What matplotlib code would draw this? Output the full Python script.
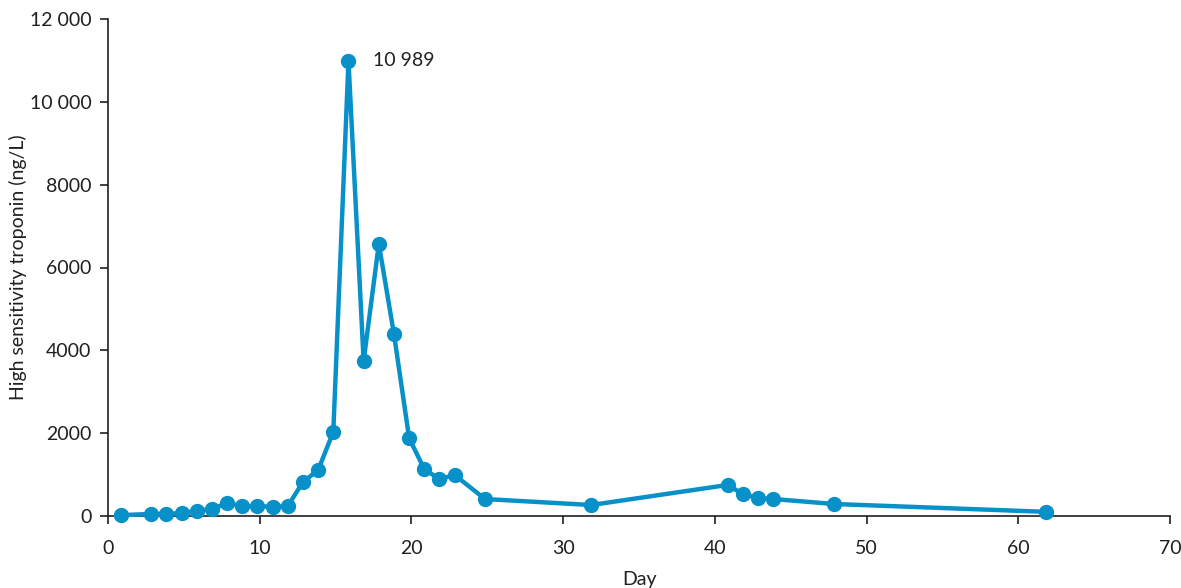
import matplotlib
matplotlib.use("Agg")
import matplotlib.pyplot as plt
from matplotlib.ticker import FuncFormatter

plt.rcParams['font.family'] = ['Lato', 'DejaVu Sans']

days = [0.85, 2.85, 3.85, 4.85, 5.85, 6.85, 7.85, 8.85, 9.85, 10.85, 11.85,
        12.85, 13.85, 14.85, 15.85, 16.85, 17.85, 18.85, 19.85, 20.85, 21.85,
        22.85, 24.85, 31.85, 40.85, 41.85, 42.85, 43.85, 47.85, 61.85]
troponin = [20, 50, 50, 70, 120, 170, 310, 240, 240, 220, 240,
            820, 1110, 2030, 10989, 3740, 6570, 4390, 1880, 1130, 890,
            990, 410, 265, 750, 530, 435, 410, 290, 100]
peak_label = "10 989"
xticks = [0, 10, 20, 30, 40, 50, 60, 70]
yticks = [0, 2000, 4000, 6000, 8000, 10000, 12000]

color = "#0891c9"
text_color = "#231f20"

fig = plt.figure(figsize=(11.81, 5.88), dpi=100)
ax = fig.add_axes([108/1181, 72/588, (1170-108)/1181, (516-19)/588])

ax.plot(days, troponin, color=color, lw=3.2, marker='o', ms=10,
        clip_on=False, zorder=3)

pk = troponin.index(max(troponin))
ax.annotate(peak_label, (days[pk], troponin[pk]), xytext=(18, 0),
            textcoords='offset points', va='center', ha='left',
            fontsize=14, color=text_color)

ax.set_xlim(0, 70)
ax.set_ylim(0, 12000)
ax.set_xticks(xticks)
ax.set_yticks(yticks)

def fmt(v, pos):
    v = int(round(v))
    if v >= 10000:
        return f"{v:,}".replace(",", " ")
    return str(v)

ax.yaxis.set_major_formatter(FuncFormatter(fmt))

for s in ['top', 'right']:
    ax.spines[s].set_visible(False)
for s in ['left', 'bottom']:
    ax.spines[s].set_color(text_color)
    ax.spines[s].set_linewidth(1.2)

ax.tick_params(axis='both', direction='out', length=6, width=1.2,
               color=text_color, labelsize=14, labelcolor=text_color)
ax.tick_params(axis='x', pad=11)
ax.tick_params(axis='y', pad=6)

ax.set_xlabel("Day", fontsize=14, color=text_color, labelpad=10)
ax.set_ylabel("High sensitivity troponin (ng/L)", fontsize=14,
              color=text_color, labelpad=2)

fig.savefig("out.png", dpi=100)
